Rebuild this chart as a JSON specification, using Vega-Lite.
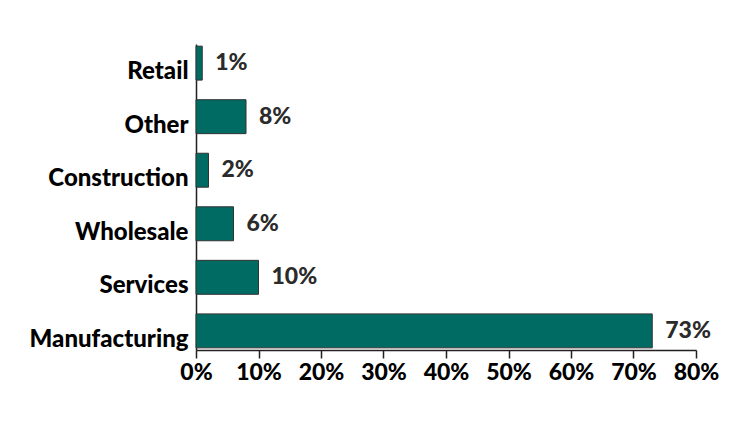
{
  "$schema": "https://vega.github.io/schema/vega-lite/v6.json",
  "width": 500,
  "height": 306,
  "autosize": {"type": "none"},
  "padding": {"left": 196, "top": 44, "right": 50, "bottom": 71},
  "background": "white",
  "config": {"view": {"stroke": null}, "font": "Lato"},
  "data": {"values": [
    {"sector": "Retail", "share": 0.01},
    {"sector": "Other", "share": 0.08},
    {"sector": "Construction", "share": 0.02},
    {"sector": "Wholesale", "share": 0.06},
    {"sector": "Services", "share": 0.10},
    {"sector": "Manufacturing", "share": 0.73}
  ]},
  "encoding": {
    "y": {
      "field": "sector", "type": "nominal", "sort": null,
      "scale": {"paddingInner": 0.366, "paddingOuter": 0.04},
      "axis": {
        "title": null, "ticks": false, "labelFontSize": 24, "labelFontWeight": 900,
        "labelColor": "#000000", "labelPadding": 8, "labelOffset": 9, "domainColor": "#231f20", "domainWidth": 1.5,
        "labelFont": "Lato", "labelLimit": 300
      }
    },
    "x": {
      "field": "share", "type": "quantitative",
      "scale": {"domain": [0, 0.8], "nice": false},
      "axis": {
        "title": null, "format": ".0%", "values": [0, 0.1, 0.2, 0.3, 0.4, 0.5, 0.6, 0.7, 0.8],
        "grid": false, "tickSize": 8, "tickColor": "#231f20", "tickWidth": 1.5,
        "domainColor": "#231f20", "domainWidth": 1.5, "labelFontSize": 23, "labelFontWeight": 900,
        "labelColor": "#000000", "labelPadding": 3, "labelFont": "Lato",
        "labelFlush": false, "labelOverlap": false
      }
    }
  },
  "layer": [
    {"mark": {"type": "bar", "color": "#006b63", "stroke": "#333333", "strokeWidth": 1}},
    {"mark": {"type": "text", "align": "left", "baseline": "middle", "dx": 13, "dy": 0, "fontSize": 23, "fontWeight": 900, "color": "#2b2b2b", "font": "Lato"},
     "encoding": {"text": {"field": "share", "type": "quantitative", "format": ".0%"}}}
  ]
}
